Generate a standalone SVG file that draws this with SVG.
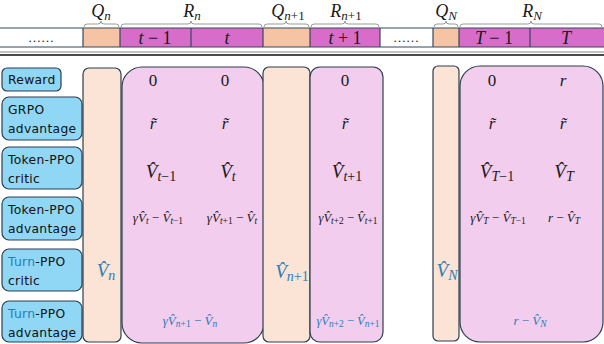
<svg xmlns="http://www.w3.org/2000/svg" width="604" height="344" viewBox="0 0 604 344">
<style>
.m{font-family:"Liberation Serif","DejaVu Serif",serif;font-style:italic;fill:#1a1a1a}
.u{font-style:normal}
.b{fill:#2a7db5}
.lab{font-family:"DejaVu Sans","Noto Sans",sans-serif;font-size:12.3px;fill:#111;letter-spacing:0.3px}
.lb{fill:#8fd7f4;stroke:#2c3e50;stroke-width:1.2}
.pe{fill:#fbe3d6;stroke:#2c3e50;stroke-width:1.2}
.pk{fill:#f2cdee;stroke:#2c3e50;stroke-width:1.2}
.seg{stroke:#34495e;stroke-width:1.2}
.br{fill:none;stroke:#999;stroke-width:1}
</style>
<rect width="604" height="344" fill="#fff"/>

<g id="topbar">
<rect x="83" y="28" width="37" height="19" fill="#f5c4a4"/>
<rect x="120" y="28" width="143" height="19" fill="#d86cc9"/>
<rect x="263" y="28" width="47" height="19" fill="#f5c4a4"/>
<rect x="310" y="28" width="70" height="19" fill="#d86cc9"/>
<rect x="433" y="28" width="26" height="19" fill="#f5c4a4"/>
<rect x="459" y="28" width="145" height="19" fill="#d86cc9"/>
<line x1="0" y1="28" x2="604" y2="28" class="seg"/>
<line x1="0" y1="47" x2="604" y2="47" class="seg"/>
<g class="seg">
<line x1="83" y1="28" x2="83" y2="47"/><line x1="120" y1="28" x2="120" y2="47"/><line x1="191" y1="28" x2="191" y2="47"/>
<line x1="263" y1="28" x2="263" y2="47"/><line x1="310" y1="28" x2="310" y2="47"/><line x1="380" y1="28" x2="380" y2="47"/>
<line x1="433" y1="28" x2="433" y2="47"/><line x1="459" y1="28" x2="459" y2="47"/><line x1="530" y1="28" x2="530" y2="47"/>
</g>
<line x1="0" y1="52" x2="604" y2="52" stroke="#888" stroke-width="1"/>
<line x1="0" y1="55" x2="604" y2="55" stroke="#111" stroke-width="1.6"/>
<text x="41" y="42" text-anchor="middle" class="m u" font-size="13">……</text>
<text x="406" y="42" text-anchor="middle" class="m u" font-size="13">……</text>
<text x="155" y="44" text-anchor="middle" class="m" font-size="18">t <tspan class="u">− 1</tspan></text>
<text x="227" y="44" text-anchor="middle" class="m" font-size="18">t</text>
<text x="345" y="44" text-anchor="middle" class="m" font-size="18">t <tspan class="u">+ 1</tspan></text>
<text x="494" y="44" text-anchor="middle" class="m" font-size="18">T <tspan class="u">− 1</tspan></text>
<text x="566" y="44" text-anchor="middle" class="m" font-size="18">T</text>
</g>

<g id="braces">
<path class="br" d="M84,27 q0,-3 3,-3 L98,24 q3,0 3,-3 q0,3 3,3 L116,24 q3,0 3,3"/>
<path class="br" d="M121,27 q0,-3 3,-3 L188,24 q3,0 3,-3 q0,3 3,3 L259,24 q3,0 3,3"/>
<path class="br" d="M264,27 q0,-3 3,-3 L283,24 q3,0 3,-3 q0,3 3,3 L306,24 q3,0 3,3"/>
<path class="br" d="M311,27 q0,-3 3,-3 L342,24 q3,0 3,-3 q0,3 3,3 L376,24 q3,0 3,3"/>
<path class="br" d="M434,27 q0,-3 3,-3 L443,24 q3,0 3,-3 q0,3 3,3 L455,24 q3,0 3,3"/>
<path class="br" d="M460,27 q0,-3 3,-3 L528,24 q3,0 3,-3 q0,3 3,3 L599,24 q3,0 3,3"/>
<text x="101" y="17" text-anchor="middle" class="m" font-size="18">Q<tspan font-size="13" dy="3">n</tspan></text>
<text x="192" y="17" text-anchor="middle" class="m" font-size="18">R<tspan font-size="13" dy="3">n</tspan></text>
<text x="288" y="17" text-anchor="middle" class="m" font-size="18">Q<tspan font-size="13" dy="3">n<tspan class="u">+1</tspan></tspan></text>
<text x="346" y="17" text-anchor="middle" class="m" font-size="18">R<tspan font-size="13" dy="3">n<tspan class="u">+1</tspan></tspan></text>
<text x="446" y="17" text-anchor="middle" class="m" font-size="18">Q<tspan font-size="13" dy="3">N</tspan></text>
<text x="532" y="17" text-anchor="middle" class="m" font-size="18">R<tspan font-size="13" dy="3">N</tspan></text>
</g>

<g id="label-reward"><rect class="lb" x="2" y="68" width="59" height="23" rx="5"/><text class="lab" x="8" y="84">Reward</text></g>
<g id="label-grpo"><rect class="lb" x="2" y="97" width="80" height="43" rx="7"/><text class="lab" x="8" y="114">GRPO</text><text class="lab" x="8" y="133">advantage</text></g>
<g id="label-token-critic"><rect class="lb" x="2" y="147" width="80" height="42" rx="7"/><text class="lab" x="8" y="164">Token-PPO</text><text class="lab" x="8" y="183">critic</text></g>
<g id="label-token-adv"><rect class="lb" x="2" y="197" width="80" height="43" rx="7"/><text class="lab" x="8" y="214">Token-PPO</text><text class="lab" x="8" y="233">advantage</text></g>
<g id="label-turn-critic"><rect class="lb" x="2" y="249" width="80" height="42" rx="7"/><text class="lab" x="8" y="266"><tspan fill="#2a7db5">Turn</tspan>-PPO</text><text class="lab" x="8" y="285">critic</text></g>
<g id="label-turn-adv"><rect class="lb" x="2" y="301" width="80" height="41" rx="7"/><text class="lab" x="8" y="318"><tspan fill="#2a7db5">Turn</tspan>-PPO</text><text class="lab" x="8" y="337">advantage</text></g>

<g id="Qn"><rect class="pe" x="83" y="68" width="38" height="274" rx="6"/>
<text x="106" y="277" text-anchor="middle" class="m b" font-size="19">V&#x302;<tspan font-size="14" dy="3">n</tspan></text></g>

<g id="Rn"><rect class="pk" x="122" y="67" width="142" height="276" rx="20"/>
<text x="153" y="86" text-anchor="middle" class="m u" font-size="17">0</text>
<text x="225" y="86" text-anchor="middle" class="m u" font-size="17">0</text>
<text x="153" y="129" text-anchor="middle" class="m" font-size="17">r&#x303;</text>
<text x="225" y="129" text-anchor="middle" class="m" font-size="17">r&#x303;</text>
<text x="161" y="178" text-anchor="middle" class="m" font-size="19">V&#x302;<tspan font-size="14" dy="3">t<tspan class="u">−1</tspan></tspan></text>
<text x="228" y="178" text-anchor="middle" class="m" font-size="19">V&#x302;<tspan font-size="14" dy="3">t</tspan></text>
<text x="158" y="222" text-anchor="middle" class="m" font-size="13">γV&#x302;<tspan font-size="9.5" dy="2">t</tspan><tspan dy="-2" class="u"> − </tspan>V&#x302;<tspan font-size="9.5" dy="2">t<tspan class="u">−1</tspan></tspan></text>
<text x="232" y="222" text-anchor="middle" class="m" font-size="13">γV&#x302;<tspan font-size="9.5" dy="2">t<tspan class="u">+1</tspan></tspan><tspan dy="-2" class="u"> − </tspan>V&#x302;<tspan font-size="9.5" dy="2">t</tspan></text>
<text x="190" y="325" text-anchor="middle" class="m b" font-size="13">γV&#x302;<tspan font-size="9.5" dy="2">n<tspan class="u">+1</tspan></tspan><tspan dy="-2" class="u"> − </tspan>V&#x302;<tspan font-size="9.5" dy="2">n</tspan></text>
</g>

<g id="Qn1"><rect class="pe" x="263" y="67" width="47" height="275" rx="6"/>
<text x="292" y="278" text-anchor="middle" class="m b" font-size="19">V&#x302;<tspan font-size="14" dy="3">n<tspan class="u">+1</tspan></tspan></text></g>

<g id="Rn1"><rect class="pk" x="310" y="67" width="73" height="275" rx="10"/>
<text x="345" y="86" text-anchor="middle" class="m u" font-size="17">0</text>
<text x="345" y="129" text-anchor="middle" class="m" font-size="17">r&#x303;</text>
<text x="347" y="178" text-anchor="middle" class="m" font-size="19">V&#x302;<tspan font-size="14" dy="3">t<tspan class="u">+1</tspan></tspan></text>
<text x="348" y="222" text-anchor="middle" class="m" font-size="12.5">γV&#x302;<tspan font-size="9.5" dy="2">t<tspan class="u">+2</tspan></tspan><tspan dy="-2" class="u"> − </tspan>V&#x302;<tspan font-size="9.5" dy="2">t<tspan class="u">+1</tspan></tspan></text>
<text x="348" y="325" text-anchor="middle" class="m b" font-size="12.5">γV&#x302;<tspan font-size="9.5" dy="2">n<tspan class="u">+2</tspan></tspan><tspan dy="-2" class="u"> − </tspan>V&#x302;<tspan font-size="9.5" dy="2">n<tspan class="u">+1</tspan></tspan></text>
</g>

<g id="QN"><rect class="pe" x="433" y="66" width="26" height="275" rx="5"/>
<text x="447" y="277" text-anchor="middle" class="m b" font-size="19">V&#x302;<tspan font-size="14" dy="3">N</tspan></text></g>

<g id="RN"><rect class="pk" x="460" y="66" width="143" height="276" rx="20"/>
<text x="492" y="86" text-anchor="middle" class="m u" font-size="17">0</text>
<text x="563" y="86" text-anchor="middle" class="m" font-size="17">r</text>
<text x="492" y="129" text-anchor="middle" class="m" font-size="17">r&#x303;</text>
<text x="563" y="129" text-anchor="middle" class="m" font-size="17">r&#x303;</text>
<text x="497" y="178" text-anchor="middle" class="m" font-size="19">V&#x302;<tspan font-size="14" dy="3">T<tspan class="u">−1</tspan></tspan></text>
<text x="564" y="178" text-anchor="middle" class="m" font-size="19">V&#x302;<tspan font-size="14" dy="3">T</tspan></text>
<text x="498" y="222" text-anchor="middle" class="m" font-size="13">γV&#x302;<tspan font-size="9.5" dy="2">T</tspan><tspan dy="-2" class="u"> − </tspan>V&#x302;<tspan font-size="9.5" dy="2">T<tspan class="u">−1</tspan></tspan></text>
<text x="564" y="222" text-anchor="middle" class="m" font-size="13">r<tspan class="u"> − </tspan>V&#x302;<tspan font-size="9.5" dy="2">T</tspan></text>
<text x="530" y="325" text-anchor="middle" class="m b" font-size="13">r<tspan class="u"> − </tspan>V&#x302;<tspan font-size="9.5" dy="2">N</tspan></text>
</g>
</svg>
